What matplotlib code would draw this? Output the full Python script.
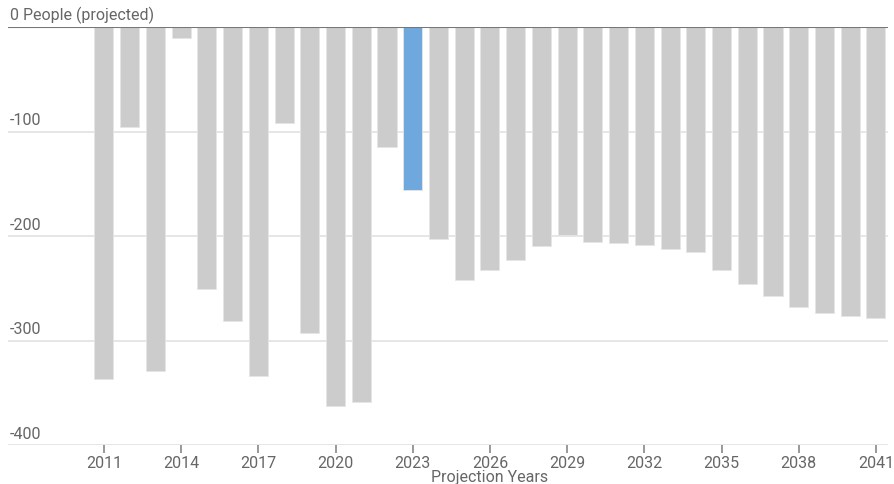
import matplotlib
matplotlib.use("Agg")
import matplotlib.pyplot as plt
import matplotlib.transforms as mtransforms

# Projected population change per year (people)
years = list(range(2011, 2042))
values = [-337, -96, -329, -11, -251, -281, -334, -92, -293, -363,
          -359, -115, -156, -203, -242, -233, -223, -210, -199, -206,
          -207, -209, -212, -215, -233, -246, -257, -268, -274, -277, -278]
highlight_year = 2023
tick_years = list(range(2011, 2042, 3))
y_ticks = [0, -100, -200, -300, -400]
y_labels = ["0 People (projected)", "-100", "-200", "-300", "-400"]

plt.rcParams['font.family'] = ['Roboto', 'DejaVu Sans']

fig = plt.figure(figsize=(8.94, 4.84), dpi=100)
ax = fig.add_axes([8 / 894, 39 / 484, 880 / 894, 418 / 484])

colors = ['#6fa8dc' if y == highlight_year else '#cccccc' for y in years]
ax.bar(years, values, width=0.74, color=colors, edgecolor='#e6e6e6',
       linewidth=0.6, zorder=3)

ax.set_xlim(2007.27, 2041.47)
ax.set_ylim(-400, 0)

# gridlines
for v in y_ticks[1:]:
    ax.axhline(v, color='#e2e2e2', linewidth=1.2, zorder=1)
ax.axhline(0, color='#777777', linewidth=1.5, zorder=4)

for s in ax.spines.values():
    s.set_visible(False)

ax.set_yticks([])
trans = mtransforms.blended_transform_factory(ax.transAxes, ax.transData)
for v, lab in zip(y_ticks, y_labels):
    ax.text(2 / 880, v + 3, lab, transform=trans, ha='left', va='bottom',
            fontsize=11.5, color='#666666')

ax.set_xticks(tick_years)
ax.set_xticklabels([str(y) for y in tick_years])
ax.tick_params(axis='x', length=6, width=1.2, color='#888888',
               labelsize=11.5, labelcolor='#666666', pad=2)

xtrans = mtransforms.blended_transform_factory(ax.transData, ax.transAxes)
ax.text(2026, -0.077, "Projection Years", transform=xtrans,
        ha='center', va='center', fontsize=11.5, color='#666666')

fig.savefig("out.png", dpi=100)
